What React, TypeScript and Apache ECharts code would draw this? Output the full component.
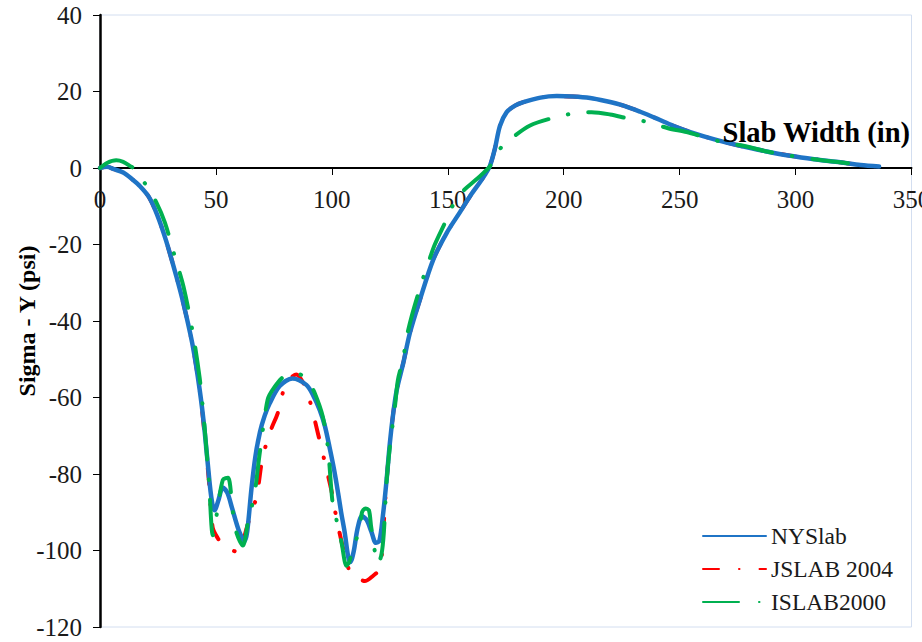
import React, { useEffect, useRef } from "react";
import * as echarts from "echarts";

const seriesNames = ["NYSlab", "JSLAB 2004", "ISLAB2000"];
const xTicks = [0, 50, 100, 150, 200, 250, 300, 350];
const yTicks = [-120, -100, -80, -60, -40, -20, 0, 20, 40];

const nyX = [0, 3, 6, 10, 14, 17, 21, 24.5, 28.5, 33, 36, 40, 43, 45, 47.3, 48.5, 49.5, 51, 53, 55, 57, 60, 62.4, 63.5, 65.3, 67, 69, 71, 73.2, 77.5, 83, 89, 92, 94.8, 97, 99, 101, 102.7, 104, 105.6, 107, 108, 109.5, 111, 113, 115, 117, 119, 120.5, 122, 123.6, 125, 126.5, 128, 130.8, 133.7, 138, 143.7, 149.5, 155.2, 160, 163.8, 166, 168.2, 170.3, 172.5, 175.4, 179, 182.6, 190, 197, 204, 211.4, 218, 225.8, 233, 240.2, 247, 254.6, 265, 276, 287, 297.7, 308, 319.3, 328, 336];
const nyY = [0, 0.3, -0.3, -1.2, -3, -4.6, -7.5, -12, -19, -28.5, -35.5, -46.5, -58, -68, -82.5, -88, -89.5, -87, -83.5, -85, -89, -95, -97.5, -95, -84, -75.5, -69, -64.8, -61.5, -57, -55, -56.7, -59.5, -63.3, -67.5, -73, -79, -85, -90, -95.5, -101.5, -103, -100, -94.5, -91, -92, -95, -98, -97.5, -91, -81.6, -72, -64, -58, -51, -43, -34.4, -24, -17, -11.6, -7, -3.8, -1.8, 0.6, 5, 11, 14.6, 16.3, 17.2, 18.4, 18.8, 18.7, 18.3, 17.5, 16.3, 14.7, 12.9, 11.1, 9.4, 7.5, 5.8, 4.4, 3.2, 2.3, 1.5, 0.8, 0.4];

const jsX = [0, 3, 6, 10, 14, 17, 21, 24.5, 28.5, 33, 36, 40, 43, 45, 47, 48.6, 51, 53, 56, 59.4, 61, 63, 65, 67.5, 70, 72, 74, 76.7, 79.7, 82, 84.7, 87.5, 89.5, 91.2, 94, 97, 99.8, 101.5, 103.4, 105.5, 107.7, 110, 112, 114.2, 117, 120.7, 122, 123.6, 125, 126.5, 128, 130.8, 133.7, 138, 143.7, 149.5, 155.2, 160, 163.8, 166, 168.2, 170.3, 172.5, 175.4, 179, 182.6, 190, 197, 204, 211.4, 218, 225.8, 233, 240.2, 247, 254.6, 265, 276, 287, 297.7, 308, 319.3, 328, 336];
const jsY = [0, 0.3, -0.3, -1.2, -3, -4.6, -7.5, -12, -19, -28.5, -35.5, -46.5, -58, -69, -82, -94, -97, -98.6, -99.6, -100.4, -99, -94.7, -90.5, -86, -76, -71.6, -68, -64, -57, -55, -54, -56, -59, -62.4, -69.4, -77, -84.3, -90, -95.6, -101, -105.5, -107, -107.5, -108, -107, -104.7, -96, -82, -72, -64, -58, -51, -43, -34.4, -24, -17, -11.6, -7, -3.8, -1.8, 0.6, 5, 11, 14.6, 16.3, 17.2, 18.4, 18.8, 18.7, 18.3, 17.5, 16.3, 14.7, 12.9, 11.1, 9.4, 7.5, 5.8, 4.4, 3.2, 2.3, 1.5, 0.8, 0.4];

const isX = [0, 3, 7, 10, 13, 15, 20, 24.3, 28, 32.2, 36, 40, 43, 45, 47, 48.7, 50.5, 53, 55.2, 57.3, 59, 61.6, 63.7, 66.7, 68.9, 72.3, 75, 79.7, 84, 87.6, 90, 92.6, 96.1, 98.3, 100.4, 102, 104.2, 106.3, 107.5, 109.2, 112, 113, 114.5, 116, 117, 120, 121.4, 122.4, 123.6, 125, 127.2, 128.5, 130.8, 132.2, 134.4, 138.7, 141.6, 144.4, 148.8, 152, 156, 162.5, 165.5, 168, 172.5, 178, 185.5, 194.8, 203.5, 212, 220, 228, 236.5, 245, 253, 261, 269, 277.5, 287, 297.7, 308, 319, 328];
const isY = [0, 1.3, 2, 1.6, 0.5, -0.3, -4.6, -9, -14.3, -23, -31, -43, -55, -67, -82, -96, -90, -81.5, -81, -90, -95.6, -98.7, -93, -85, -74.5, -60.6, -57.5, -54.3, -53.8, -54.3, -56, -58.8, -65, -73.2, -88, -92, -98, -104, -103, -99, -94.7, -90, -89, -89.5, -94, -103.5, -101, -95.5, -82, -73, -62.4, -55.4, -49.7, -44.4, -38.8, -30, -24.8, -20, -14.3, -10, -6.4, -2.9, -1.2, 0.3, 5, 8, 11.1, 13, 14.2, 14.6, 14, 12.9, 12, 10.4, 9.4, 8, 6.7, 5.8, 4.4, 3.2, 2.3, 1.5, 0.9];

const zip = (xs: number[], ys: number[]) => xs.map((x, i) => [x, ys[i]]);

const FONT = "Liberation Serif";

export default function App() {
  const ref = useRef<HTMLDivElement>(null);
  useEffect(() => {
    if (!ref.current) return;
    const chart = echarts.init(ref.current, undefined, { renderer: "svg" });
    const gridTop = 15;
    const gridBottom = 15;
    const gridH = 642 - gridTop - gridBottom;
    const yMin = yTicks[0];
    const yMax = yTicks[yTicks.length - 1];
    const zeroOffset = -gridH * (0 - yMin) / (yMax - yMin);
    chart.setOption({
      animation: false,
      backgroundColor: "#ffffff",
      grid: {
        left: 100,
        right: 10.5,
        top: gridTop,
        bottom: gridBottom,
        containLabel: false,
        outerBoundsMode: "none",
        show: true,
        borderColor: "#d3def0",
        borderWidth: 1,
        backgroundColor: "transparent",
      },
      xAxis: {
        type: "value",
        min: xTicks[0],
        max: xTicks[xTicks.length - 1],
        interval: 50,
        position: "bottom",
        offset: zeroOffset,
        axisLine: { show: true, onZero: false, lineStyle: { color: "#000", width: 2 } },
        axisTick: { show: true, inside: false, length: 7, lineStyle: { color: "#000", width: 1 } },
        axisLabel: {
          margin: 19,
          fontFamily: FONT,
          fontSize: 25,
          color: "#1a1a1a",
          showMaxLabel: true,
        },
        splitLine: { show: false },
      },
      yAxis: {
        type: "value",
        min: yMin,
        max: yMax,
        interval: 20,
        name: "Sigma - Y (psi)",
        nameLocation: "middle",
        nameGap: 61,
        nameMoveOverlap: false,
        nameTextStyle: { fontFamily: FONT, fontSize: 24, fontWeight: "bold", color: "#000" },
        axisLine: { show: true, onZero: false, lineStyle: { color: "#000", width: 2.5 } },
        axisTick: { show: true, inside: false, length: 7, lineStyle: { color: "#000", width: 1 } },
        axisLabel: { margin: 18, fontFamily: FONT, fontSize: 25, color: "#1a1a1a" },
        splitLine: { show: false },
      },
      legend: {
        data: seriesNames,
        orient: "vertical",
        left: 702,
        top: 524,
        padding: 0,
        itemWidth: 63,
        itemHeight: 14,
        itemGap: 9,
        itemStyle: { opacity: 0 },
        textStyle: { fontFamily: FONT, fontSize: 23.5, color: "#1a1a1a", lineHeight: 24 },
      },
      graphic: [
        {
          type: "text",
          x: 910,
          y: 132,
          style: {
            text: "Slab Width (in)",
            fontFamily: FONT,
            fontSize: 28.5,
            fontWeight: "bold",
            fill: "#000",
            align: "right",
            verticalAlign: "middle",
          },
          z: 10,
        },
      ],
      series: [
        {
          name: seriesNames[0],
          type: "line",
          data: zip(nyX, nyY),
          symbol: "none",
          showSymbol: false,
          smooth: 0.3,
          z: 3,
          lineStyle: { color: "#1f74c6", width: 4.5, cap: "round", join: "round" },
          itemStyle: { color: "#1f74c6" },
        },
        {
          name: seriesNames[1],
          type: "line",
          data: zip(jsX, jsY),
          symbol: "none",
          showSymbol: false,
          smooth: 0.3,
          z: 2,
          lineStyle: { color: "#ff0000", width: 4, type: [16, 20, 0.5, 20], cap: "round", join: "round" },
          itemStyle: { color: "#ff0000" },
        },
        {
          name: seriesNames[2],
          type: "line",
          data: zip(isX, isY),
          symbol: "none",
          showSymbol: false,
          smooth: 0.3,
          z: 4,
          lineStyle: { color: "#00b050", width: 4, type: [36, 20, 0.5, 20], cap: "round", join: "round" },
          itemStyle: { color: "#00b050" },
        },
      ],
    });
    return () => chart.dispose();
  }, []);
  return <div ref={ref} style={{ width: 922, height: 642, position: "absolute", left: 0, top: 0 }} />;
}
